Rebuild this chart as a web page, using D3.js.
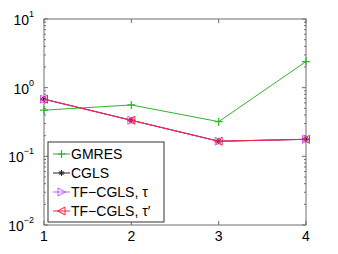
<!DOCTYPE html>
<html>
<head>
<meta charset="utf-8">
<script src="https://cdn.jsdelivr.net/npm/d3@7"></script>
<style>
  body { margin: 0; background: #fff; }
  text { font-family: "Liberation Sans", Arial, Helvetica, sans-serif; }
</style>
</head>
<body>
<svg id="chart"></svg>
<script>
const iterations = [1, 2, 3, 4]
const gmres = [0.47, 0.56, 0.32, 2.4]
const cgls = [0.68, 0.335, 0.166, 0.177]
const tfTau = [0.68, 0.335, 0.166, 0.177]
const tfTauPrime = [0.68, 0.335, 0.166, 0.177]
const yTickExponents = [-2, -1, 0, 1]
const seriesNames = ["GMRES", "CGLS", "TF\u2212CGLS, \u03c4", "TF\u2212CGLS, \u03c4\u2032"]

const colors = ["#2db42d", "#222222", "#bf5fff", "#ff1f3a"]
const markers = ["plus", "star", "triRight", "triLeft"]
const allSeries = [gmres, cgls, tfTau, tfTauPrime]

const margin = {top: 19, right: 32, bottom: 29, left: 44}
  , width = 338 - margin.left - margin.right
  , height = 254 - margin.top - margin.bottom;

const svg = d3.select("#chart")
  .attr("width", 338)
  .attr("height", 254)

const graph = svg.append("g")
  .attr("transform", "translate(" + margin.left + "," + margin.top + ")")

const xScale = d3.scaleLinear().domain([1, 4]).range([0, width])
const yScale = d3.scaleLog().domain([0.01, 10]).range([height, 0])

// frame
graph.append("rect")
  .attr("width", width).attr("height", height)
  .attr("fill", "none").attr("stroke", "#6e6e6e").attr("stroke-width", 1)

// minor + major y ticks on both sides (inward)
const minorTicks = []
yTickExponents.slice(0, -1).forEach(e => {
  for (let k = 2; k <= 9; k++) minorTicks.push(k * Math.pow(10, e))
})
const tickColor = "#6e6e6e"
minorTicks.forEach(v => {
  graph.append("line").attr("x1", 0).attr("x2", 2).attr("y1", yScale(v)).attr("y2", yScale(v)).attr("stroke", tickColor)
  graph.append("line").attr("x1", width).attr("x2", width - 2).attr("y1", yScale(v)).attr("y2", yScale(v)).attr("stroke", tickColor)
})
yTickExponents.forEach(e => {
  const y = yScale(Math.pow(10, e))
  graph.append("line").attr("x1", 0).attr("x2", 4).attr("y1", y).attr("y2", y).attr("stroke", tickColor)
  graph.append("line").attr("x1", width).attr("x2", width - 4).attr("y1", y).attr("y2", y).attr("stroke", tickColor)
  const t = graph.append("text")
    .attr("x", -10).attr("y", y + 6)
    .attr("text-anchor", "end")
    .attr("font-size", "14px")
  t.append("tspan").text("10")
  t.append("tspan").attr("dy", -8).attr("font-size", "9px").text(e < 0 ? "\u2212" + (-e) : e)
})

// x ticks top and bottom
iterations.forEach(v => {
  const x = xScale(v)
  graph.append("line").attr("x1", x).attr("x2", x).attr("y1", height).attr("y2", height - 4).attr("stroke", tickColor)
  graph.append("line").attr("x1", x).attr("x2", x).attr("y1", 0).attr("y2", 4).attr("stroke", tickColor)
  graph.append("text")
    .attr("x", x).attr("y", height + 16)
    .attr("text-anchor", "middle")
    .attr("font-size", "14px")
    .text(v)
})

function drawMarker(g, type, x, y, color) {
  if (type === "plus") {
    g.append("path").attr("d", `M${x-4},${y}H${x+4}M${x},${y-4}V${y+4}`)
      .attr("stroke", color).attr("stroke-width", 1.2).attr("fill", "none")
  } else if (type === "star") {
    g.append("path").attr("d", `M${x-3},${y}H${x+3}M${x},${y-3}V${y+3}M${x-2.2},${y-2.2}L${x+2.2},${y+2.2}M${x-2.2},${y+2.2}L${x+2.2},${y-2.2}`)
      .attr("stroke", color).attr("stroke-width", 1).attr("fill", "none")
  } else if (type === "triRight") {
    g.append("path").attr("d", `M${x-3.5},${y-4}L${x+4},${y}L${x-3.5},${y+4}Z`)
      .attr("stroke", color).attr("stroke-width", 1).attr("fill", "none")
  } else {
    g.append("path").attr("d", `M${x+3.5},${y-4}L${x-4},${y}L${x+3.5},${y+4}Z`)
      .attr("stroke", color).attr("stroke-width", 1).attr("fill", "none")
  }
}

const line = d3.line()
  .x((d, i) => xScale(iterations[i]))
  .y(d => yScale(d))

allSeries.forEach((series, si) => {
  const g = graph.append("g")
  g.append("path").datum(series)
    .attr("d", line)
    .attr("fill", "none")
    .attr("stroke", colors[si])
    .attr("stroke-width", 1)
  series.forEach((v, i) => drawMarker(g, markers[si], xScale(iterations[i]), yScale(v), colors[si]))
})

// legend
const legend = graph.append("g").attr("transform", "translate(4," + (height - 83) + ")")
legend.append("rect")
  .attr("width", 116).attr("height", 80)
  .attr("fill", "#fff").attr("stroke", "#333").attr("stroke-width", 1)
seriesNames.forEach((name, i) => {
  const y = 12 + i * 19
  legend.append("line").attr("x1", 5).attr("x2", 22).attr("y1", y).attr("y2", y)
    .attr("stroke", colors[i]).attr("stroke-width", 1)
  drawMarker(legend, markers[i], 13.5, y, colors[i])
  legend.append("text")
    .attr("x", 23).attr("y", y + 5)
    .attr("font-size", "14px")
    .text(name)
})
</script>
</body>
</html>
